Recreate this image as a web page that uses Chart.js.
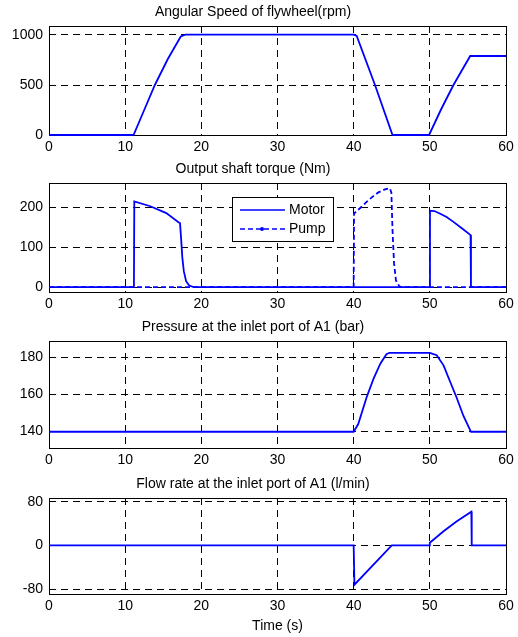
<!DOCTYPE html>
<html>
<head>
<meta charset="utf-8">
<script src="https://cdn.jsdelivr.net/npm/chart.js@4/dist/chart.umd.min.js"></script>
<style>
  body { margin: 0; background: #fff; }
  #wrap { position: relative; width: 518px; height: 637px; }
  canvas { position: absolute; left: 0; }
</style>
</head>
<body>
<div id="wrap">
  <canvas id="c1" width="518" height="160" style="top:0px"></canvas>
  <canvas id="c2" width="518" height="160" style="top:157px"></canvas>
  <canvas id="c3" width="518" height="158" style="top:315px"></canvas>
  <canvas id="c4" width="518" height="165" style="top:472px"></canvas>
</div>
<script>
// time axis
const xTicks = [0, 10, 20, 30, 40, 50, 60];

// angular speed of flywheel (rpm)
const speedT = [0, 11.1, 12.5, 13.9, 15.6, 17.3, 17.9, 40.0, 40.4, 42.8, 45.1, 49.9, 51.5, 53.1, 55.3, 60];
const speedV = [0, 0, 250, 500, 760, 985, 1003, 1003, 990, 500, 0, 0, 260, 500, 790, 790];
const speedTicks = [0, 500, 1000];

// output shaft torque (Nm)
const motorT = [0, 11.15, 11.2, 13.3, 15.4, 17.0, 17.2, 17.35, 17.5, 17.7, 18.0, 18.4, 19.0,
                49.98, 50.02, 50.6, 51.3, 52.2, 53.1, 54.2, 55.35, 55.4, 60];
const motorV = [0, 0, 214, 202, 185, 162, 160, 120, 75, 40, 15, 4, 0,
                0, 191, 190, 184, 175, 163, 147, 130, 0, 0];
const pumpT = [0, 40.0, 40.05, 41.0, 41.7, 42.5, 43.2, 44.1, 44.75, 44.95, 45.1, 45.3, 45.55, 46.0, 46.4, 60];
const pumpV = [0, 0, 184, 200, 213, 226, 236, 244, 247, 236, 142, 60, 17, 2, 0, 0];
const torqueTicks = [0, 100, 200];

// pressure at inlet port of A1 (bar)
const pressT = [0, 40.0, 40.6, 41.7, 42.6, 43.5, 44.3, 44.7, 50.0, 50.9, 51.8, 52.6, 53.5, 54.4, 55.4, 60];
const pressV = [139.8, 139.8, 144, 158.5, 168.5, 176.7, 181.8, 182.6, 182.6, 181.3, 175.8, 167.6, 158.5, 148.5, 139.8, 139.8];
const pressTicks = [140, 160, 180];

// flow rate at inlet port of A1 (l/min)
const flowT = [0, 40.0, 40.1, 45.0, 49.9, 50.0, 51.8, 53.5, 55.45, 55.5, 60];
const flowV = [0, 0, -72, 0, 0, 5, 26, 44, 62, 0, 0];
const flowTicks = [-80, 0, 80];

const FONT = "'Liberation Sans', Arial, sans-serif";
const FSIZE = 14;
const BLUE = '#0000ff';

function pts(t, v) {
    return t.map((x, i) => ({ x: x, y: v[i] }));
}

// MATLAB-like box around the axes
const boxPlugin = {
    id: 'box',
    beforeDatasetsDraw(chart) {
        const a = chart.chartArea;
        const ctx = chart.ctx;
        ctx.save();
        ctx.strokeStyle = '#000';
        ctx.lineWidth = 1;
        ctx.strokeRect(Math.round(a.left) + 0.5, Math.round(a.top) + 0.5,
                       Math.round(a.right - a.left), Math.round(a.bottom - a.top));
        ctx.restore();
    }
};

// legend box drawn inside the torque axes
const innerLegend = {
    id: 'innerLegend',
    afterDatasetsDraw(chart) {
        if (!chart.options.plugins.innerLegend || !chart.options.plugins.innerLegend.show) return;
        const a = chart.chartArea;
        const ctx = chart.ctx;
        const bx = a.left + 183, by = a.top + 14;
        ctx.save();
        ctx.fillStyle = '#fff';
        ctx.fillRect(bx, by, 101, 44);
        ctx.strokeStyle = '#000';
        ctx.lineWidth = 1;
        ctx.strokeRect(bx + 0.5, by + 0.5, 101, 44);
        chart.data.datasets.forEach((ds, i) => {
            const y = by + 13 + i * 19;
            ctx.strokeStyle = ds.borderColor;
            ctx.lineWidth = 1.6;
            ctx.setLineDash(ds.borderDash || []);
            ctx.beginPath();
            ctx.moveTo(bx + 8, y);
            ctx.lineTo(bx + 53, y);
            ctx.stroke();
            ctx.setLineDash([]);
            if (ds.borderDash) {
                ctx.fillStyle = ds.borderColor;
                ctx.beginPath();
                ctx.arc(bx + 30, y, 2, 0, Math.PI * 2);
                ctx.fill();
            }
            ctx.fillStyle = '#000';
            ctx.font = FSIZE + 'px ' + FONT;
            ctx.textBaseline = 'middle';
            ctx.textAlign = 'left';
            ctx.fillText(ds.label, bx + 57, y);
        });
        ctx.restore();
    }
};

function makeChart(id, title, datasets, yMin, yMax, yTicks, xHeight, xTitle, legend) {
    const ctx = document.getElementById(id).getContext('2d');
    return new Chart(ctx, {
        type: 'line',
        data: { datasets: datasets },
        options: {
            responsive: false,
            animation: false,
            layout: { padding: { left: 0, right: 12, top: 0, bottom: 0 } },
            elements: { point: { radius: 0 }, line: { tension: 0 } },
            scales: {
                x: {
                    type: 'linear',
                    min: 0,
                    max: 60,
                    afterBuildTicks: (s) => { s.ticks = xTicks.map(v => ({ value: v })); },
                    afterFit: (s) => { s.height = xHeight; },
                    ticks: { color: '#000', padding: 4, maxRotation: 0,
                             callback: (v) => String(v), font: { family: FONT, size: FSIZE } },
                    grid: { color: '#000', lineWidth: 1, drawTicks: false },
                    border: { display: false, dash: [7, 5] },
                    title: {
                        display: !!xTitle,
                        text: xTitle || '',
                        color: '#000',
                        padding: { top: 0, bottom: 2 },
                        font: { family: FONT, size: FSIZE }
                    }
                },
                y: {
                    min: yMin,
                    max: yMax,
                    afterBuildTicks: (s) => { s.ticks = yTicks.map(v => ({ value: v })); },
                    afterFit: (s) => { s.width = 49; },
                    ticks: { color: '#000', padding: 6, callback: (v) => String(v),
                             font: { family: FONT, size: FSIZE } },
                    grid: { color: '#000', lineWidth: 1, drawTicks: false },
                    border: { display: false, dash: [7, 5] }
                }
            },
            plugins: {
                legend: { display: false },
                tooltip: { enabled: false },
                innerLegend: { show: !!legend },
                title: {
                    display: true,
                    text: title,
                    color: '#000',
                    padding: { top: 4, bottom: 5.2 },
                    font: { family: FONT, size: FSIZE, weight: 'normal' }
                }
            }
        },
        plugins: [boxPlugin, innerLegend]
    });
}

function line(label, t, v, dash) {
    const ds = {
        label: label,
        data: pts(t, v),
        borderColor: BLUE,
        borderWidth: 1.8,
        fill: false,
        clip: 4
    };
    if (dash) ds.borderDash = dash;
    return ds;
}

document.addEventListener('DOMContentLoaded', () => {
    makeChart('c1', 'Angular Speed of flywheel(rpm)',
        [line('Speed', speedT, speedV)], 0, 1090, speedTicks, 25);

    makeChart('c2', 'Output shaft torque (Nm)',
        [line('Motor', motorT, motorV), line('Pump', pumpT, pumpV, [5, 3])],
        -12, 260, torqueTicks, 25, null, true);

    makeChart('c3', 'Pressure at the inlet port of A1 (bar)',
        [line('Pressure', pressT, pressV)], 131, 189, pressTicks, 25);

    makeChart('c4', 'Flow rate at the inlet port of A1 (l/min)',
        [line('Flow', flowT, flowV)], -89, 87, flowTicks, 43, 'Time (s)');
});
</script>
</body>
</html>
